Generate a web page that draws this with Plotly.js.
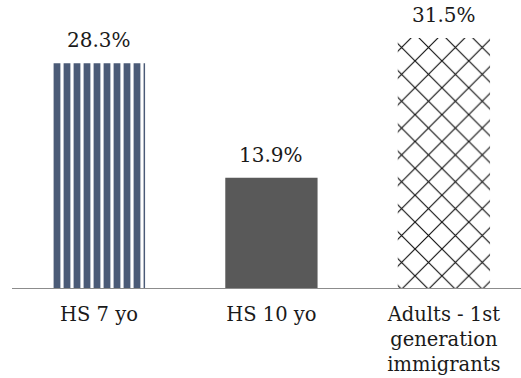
<!DOCTYPE html>
<html>
<head>
<meta charset="utf-8">
<script src="https://cdn.plot.ly/plotly-3.0.1.min.js"></script>
<style>
  html, body { margin: 0; padding: 0; background: #fff; }
  #chart { width: 521px; height: 378px; }
</style>
</head>
<body>
<div id="chart"></div>
<script>
// Share of each group (percent)
const categories = ['HS 7 yo', 'HS 10 yo', 'Adults - 1st<br>generation<br>immigrants'];
const values = [28.3, 13.9, 31.5];
const valueLabels = ['28.3%', '13.9%', '31.5%'];

const serif = 'DejaVu Serif';

// One fill style per bar
const fills = [
  { color: '#ffffff', pattern: { shape: '|', fgcolor: '#4b5b77', bgcolor: '#ffffff', size: 10, solidity: 0.68 } },
  { color: '#595959' },
  { color: '#ffffff', pattern: { shape: 'x', fgcolor: '#111111', bgcolor: '#ffffff', size: 19, solidity: 0.12 } }
];

const traces = categories.map((c, i) => ({
  type: 'bar',
  x: [c],
  y: [values[i]],
  width: 0.535,
  hoverinfo: 'skip',
  marker: Object.assign({ line: { width: 0 } }, fills[i])
}));

const annotations = categories.map((c, i) => ({
  x: c,
  y: values[i],
  text: valueLabels[i],
  showarrow: false,
  yanchor: 'bottom',
  yshift: 9,
  font: { family: serif, size: 20, color: '#1a1a1a' }
}));

const layout = {
  width: 521,
  height: 378,
  margin: { l: 12, r: 0, t: 34, b: 90 },
  paper_bgcolor: '#ffffff',
  plot_bgcolor: '#ffffff',
  showlegend: false,
  barmode: 'overlay',
  font: { family: serif },
  xaxis: {
    type: 'category',
    categoryorder: 'array',
    categoryarray: categories,
    range: [-0.504, 2.447],
    showline: true,
    linecolor: '#8c8c8c',
    linewidth: 1.3,
    showgrid: false,
    zeroline: false,
    ticks: '',
    ticklabelstandoff: 8,
    tickfont: { family: serif, size: 19.5, color: '#1a1a1a' },
    fixedrange: true
  },
  yaxis: {
    range: [0, 32],
    visible: false,
    showgrid: false,
    zeroline: false,
    fixedrange: true
  },
  annotations: annotations
};

Plotly.newPlot('chart', traces, layout, { displayModeBar: false });
</script>
</body>
</html>
